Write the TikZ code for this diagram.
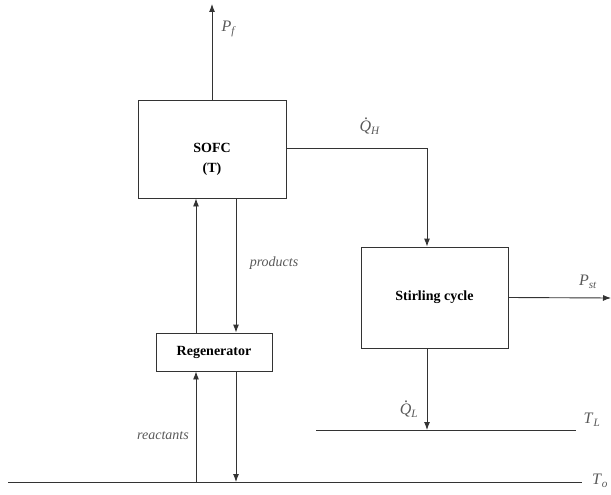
\documentclass[tikz,border=0pt]{standalone}
\usepackage{fontspec}
\setmainfont{Liberation Serif}
\usetikzlibrary{arrows.meta, positioning}
\definecolor{linegray}{rgb}{0.2, 0.2, 0.2}
\definecolor{labelgray}{rgb}{0.35, 0.35, 0.35}

\newcommand{\qty}[2]{\textit{#1}\textsubscript{\textit{#2}}}
\newcommand{\qdot}{\textit{Q}\kern-0.45em\raisebox{0.74em}{\upshape .}\kern0.2em}

\tikzset{
  block/.style={draw=linegray, line width=0.9pt, inner sep=0pt,
    font=\bfseries\fontsize{14}{20}\selectfont, align=center},
  blocktext/.style={inner sep=0pt, font=\bfseries\fontsize{14}{20}\selectfont, align=center},
  flow/.style={draw=linegray, line width=0.9pt, -{Latex[length=8pt, width=6pt]}},
  level/.style={draw=linegray, line width=0.9pt},
  lbl/.style={text=labelgray, font=\fontsize{16}{18}\selectfont, inner sep=1pt},
  itlbl/.style={text=labelgray, font=\itshape\fontsize{14}{16}\selectfont, inner sep=1pt}
}

\begin{document}
\begin{tikzpicture}[x=1pt, y=-1pt]
  \useasboundingbox (0,0) rectangle (611,495);

  % boxes
  \node[block, minimum width=148pt, minimum height=98pt] (sofc) at (212,149) {};
  \node[blocktext] (sofctext) at ([yshift=-10pt]sofc.center) {SOFC\\(T)};
  \node[block, minimum width=147pt, minimum height=101pt] (stir) at (434.5,297.5) {Stirling cycle};
  \node[block, minimum width=116pt, minimum height=38pt] (regen) at (214,352) {Regenerator};

  % reservoirs
  \coordinate (tlw) at (316,430);
  \coordinate (tle) at (576,430);
  \coordinate (tow) at (8,482);
  \coordinate (toe) at (582,482);
  \draw[level] (tlw) -- (tle);
  \draw[level] (tow) -- (toe);

  % work and heat
  \coordinate (pf) at (212,4);
  \coordinate (qh) at (427,148);
  \coordinate (pst) at (611,298);
  \draw[flow] (sofc.north) -- (pf);
  \draw[flow] (sofc.east |- qh) -- (qh) -- (qh |- stir.north);
  \draw[flow] (stir.east) -- (pst);
  \draw[flow] (stir.south -| qh) -- (qh |- tlw);

  % streams
  \coordinate (inx) at (196,0);
  \coordinate (outx) at (236,0);
  \draw[flow] (regen.north -| inx) -- (sofc.south -| inx);
  \draw[flow] (sofc.south -| outx) -- (regen.north -| outx);
  \draw[flow] (tow -| inx) -- (regen.south -| inx);
  \draw[flow] (regen.south -| outx) -- (tow -| outx);

  % labels
  \node[lbl] (pflbl) at (229,29) {\qty{P}{f}};
  \node[lbl] (qhlbl) at (370,126) {\qty{\qdot}{H}};
  \node[lbl] (pstlbl) at (588,282) {\qty{P}{st}};
  \node[lbl] (qllbl) at (409,409) {\qty{\qdot}{L}};
  \node[lbl] (tllbl) at (592,420) {\qty{T}{L}};
  \node[lbl] (tolbl) at (600,481) {\qty{T}{o}};
  \node[itlbl] (prodlbl) at (274,263) {products};
  \node[itlbl] (reaclbl) at (163,436) {reactants};
\end{tikzpicture}
\end{document}
